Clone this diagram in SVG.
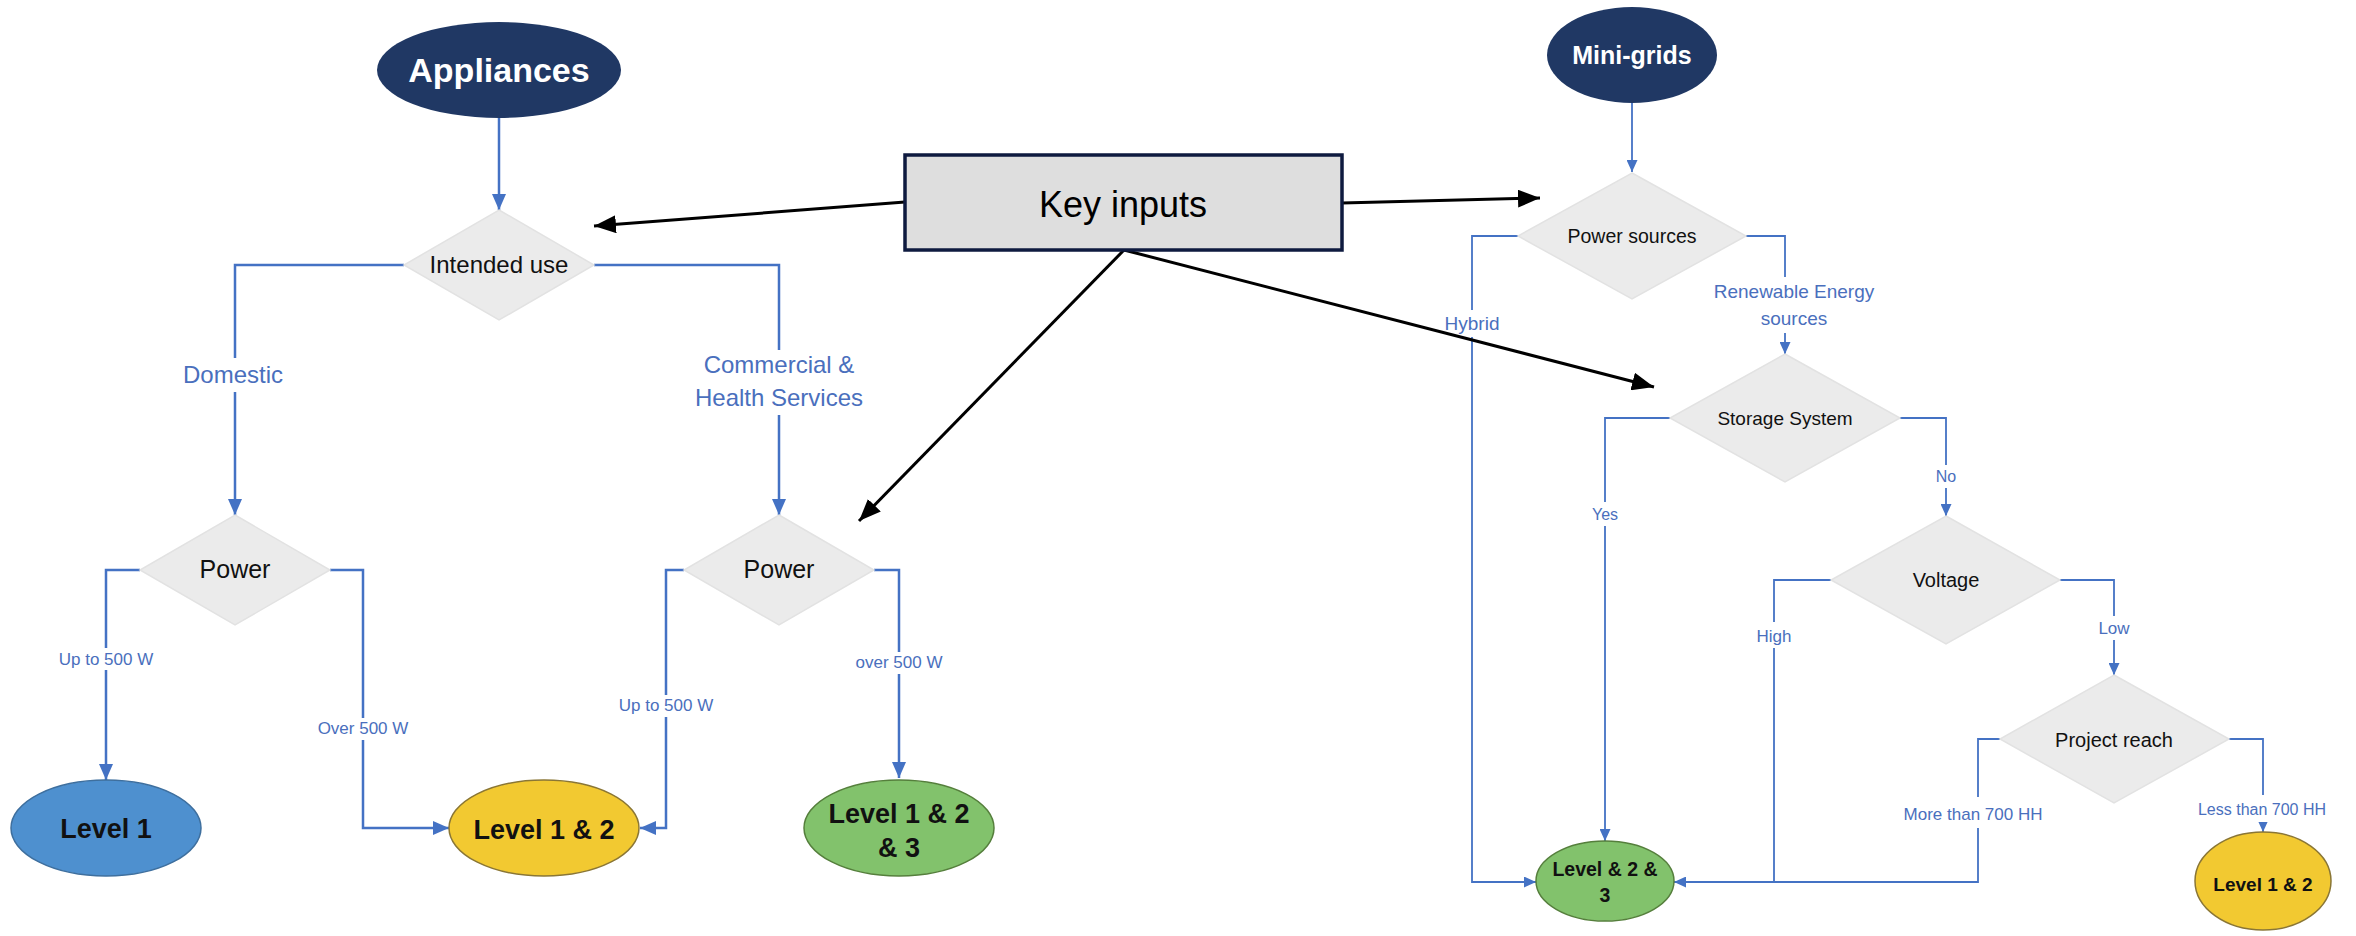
<svg xmlns="http://www.w3.org/2000/svg" width="2356" height="936" viewBox="0 0 2356 936">
  <defs>
    <style>
      text { font-family: "Liberation Sans", Arial, sans-serif; }
      .start { fill: #203864; }
      .start-t { fill: #ffffff; font-weight: bold; text-anchor: middle; }
      .dec { fill: #ebebeb; stroke: #e2e2e2; stroke-width: 1.5; }
      .dec-t { fill: #111111; text-anchor: middle; }
      .end-t { fill: #111111; font-weight: bold; text-anchor: middle; }
      .lvl1 { fill: #4e90cf; stroke: #3e6f9e; stroke-width: 1.5; }
      .lvl12 { fill: #f2c931; stroke: #8a7635; stroke-width: 1.5; }
      .lvl123 { fill: #82c26c; stroke: #557f3c; stroke-width: 1.5; }
      .flow { fill: none; stroke: #4472c4; stroke-width: 2.5; }
      .flow-s { fill: none; stroke: #4472c4; stroke-width: 1.8; }
      .key { fill: none; stroke: #000000; stroke-width: 3; }
      .gap { fill: #ffffff; }
      .lbl { fill: #4a6fbd; text-anchor: middle; }
    </style>
    <marker id="arrowBlue" viewBox="0 0 16 14" refX="16" refY="7" markerWidth="16" markerHeight="14" markerUnits="userSpaceOnUse" orient="auto">
      <path d="M0,0 L16,7 L0,14 z" fill="#4472c4"/>
    </marker>
    <marker id="arrowBlueSmall" viewBox="0 0 12 11" refX="12" refY="5.5" markerWidth="12" markerHeight="11" markerUnits="userSpaceOnUse" orient="auto">
      <path d="M0,0 L12,5.5 L0,11 z" fill="#4472c4"/>
    </marker>
    <marker id="arrowBlack" viewBox="0 0 22 18" refX="22" refY="9" markerWidth="22" markerHeight="18" markerUnits="userSpaceOnUse" orient="auto">
      <path d="M0,0 L22,9 L0,18 z" fill="#000000"/>
    </marker>
  </defs>

  <rect width="2356" height="936" fill="#ffffff"/>

  <!-- connectors -->
  <g id="connectors">
    <!-- appliances flow -->
    <path class="flow" d="M499 118 V210" marker-end="url(#arrowBlue)"/>
    <path class="flow" d="M404 265 H235 V515" marker-end="url(#arrowBlue)"/>
    <path class="flow" d="M594 265 H779 V515" marker-end="url(#arrowBlue)"/>
    <path class="flow" d="M140 570 H106 V780" marker-end="url(#arrowBlue)"/>
    <path class="flow" d="M330 570 H363 V828 H449" marker-end="url(#arrowBlue)"/>
    <path class="flow" d="M684 570 H666 V828 H640" marker-end="url(#arrowBlue)"/>
    <path class="flow" d="M874 570 H899 V778" marker-end="url(#arrowBlue)"/>

    <!-- mini-grid flow -->
    <path class="flow-s" d="M1632 103 V172" marker-end="url(#arrowBlueSmall)"/>
    <path class="flow-s" d="M1518 236 H1472 V882 H1536" marker-end="url(#arrowBlueSmall)"/>
    <path class="flow-s" d="M1746 236 H1785 V354" marker-end="url(#arrowBlueSmall)"/>
    <path class="flow-s" d="M1670 418 H1605 V841" marker-end="url(#arrowBlueSmall)"/>
    <path class="flow-s" d="M1900 418 H1946 V516" marker-end="url(#arrowBlueSmall)"/>
    <path class="flow-s" d="M1831 580 H1774 V882"/>
    <path class="flow-s" d="M2060 580 H2114 V675" marker-end="url(#arrowBlueSmall)"/>
    <path class="flow-s" d="M2001 739 H1978 V882 H1674" marker-end="url(#arrowBlueSmall)"/>
    <path class="flow-s" d="M2229 739 H2263 V832" marker-end="url(#arrowBlueSmall)"/>
  </g>

  <!-- branch labels -->
  <g id="labels">
    <rect class="gap" x="229" y="358" width="12" height="34"/>
    <text class="lbl" x="233" y="383" font-size="24">Domestic</text>

    <rect class="gap" x="773" y="350" width="12" height="65"/>
    <text class="lbl" x="779" y="373" font-size="24">Commercial &amp;</text>
    <text class="lbl" x="779" y="406" font-size="24">Health Services</text>

    <rect class="gap" x="100" y="648" width="12" height="22"/>
    <text class="lbl" x="106" y="665" font-size="17">Up to 500 W</text>

    <rect class="gap" x="357" y="718" width="12" height="22"/>
    <text class="lbl" x="363" y="734" font-size="17">Over 500 W</text>

    <rect class="gap" x="660" y="695" width="12" height="22"/>
    <text class="lbl" x="666" y="711" font-size="17">Up to 500 W</text>

    <rect class="gap" x="893" y="652" width="12" height="22"/>
    <text class="lbl" x="899" y="668" font-size="17">over 500 W</text>

    <rect class="gap" x="1466" y="310" width="12" height="27"/>
    <text class="lbl" x="1472" y="330" font-size="19">Hybrid</text>

    <rect class="gap" x="1779" y="277" width="12" height="56"/>
    <text class="lbl" x="1794" y="298" font-size="19">Renewable Energy</text>
    <text class="lbl" x="1794" y="325" font-size="19">sources</text>

    <rect class="gap" x="1599" y="502" width="12" height="24"/>
    <text class="lbl" x="1605" y="520" font-size="16">Yes</text>

    <rect class="gap" x="1940" y="465" width="12" height="23"/>
    <text class="lbl" x="1946" y="482" font-size="16">No</text>

    <rect class="gap" x="1768" y="622" width="12" height="26"/>
    <text class="lbl" x="1774" y="642" font-size="17">High</text>

    <rect class="gap" x="2108" y="616" width="12" height="24"/>
    <text class="lbl" x="2114" y="634" font-size="17">Low</text>

    <rect class="gap" x="1972" y="797" width="12" height="31"/>
    <text class="lbl" x="1973" y="820" font-size="17">More than 700 HH</text>

    <rect class="gap" x="2257" y="795" width="12" height="27"/>
    <text class="lbl" x="2262" y="815" font-size="16">Less than 700 HH</text>
  </g>

  <!-- key inputs links -->
  <g id="key-links">
    <path class="key" d="M905 202 L594 226" marker-end="url(#arrowBlack)"/>
    <path class="key" d="M1342 203 L1540 198" marker-end="url(#arrowBlack)"/>
    <path class="key" d="M1124 250 L1654 387" marker-end="url(#arrowBlack)"/>
    <path class="key" d="M1124 250 L859 521" marker-end="url(#arrowBlack)"/>
  </g>

  <!-- appliances branch -->
  <g id="appliances">
    <ellipse class="start" cx="499" cy="70" rx="122" ry="48"/>
    <text class="start-t" x="499" y="82" font-size="34">Appliances</text>
  </g>
  <g id="intended-use">
    <polygon class="dec" points="499,210 594,265 499,320 404,265"/>
    <text class="dec-t" x="499" y="273" font-size="24">Intended use</text>
  </g>
  <g id="power-domestic">
    <polygon class="dec" points="235,515 330,570 235,625 140,570"/>
    <text class="dec-t" x="235" y="578" font-size="25">Power</text>
  </g>
  <g id="power-commercial">
    <polygon class="dec" points="779,515 874,570 779,625 684,570"/>
    <text class="dec-t" x="779" y="578" font-size="25">Power</text>
  </g>
  <g id="level-1">
    <ellipse class="lvl1" cx="106" cy="828" rx="95" ry="48"/>
    <text class="end-t" x="106" y="838" font-size="27">Level 1</text>
  </g>
  <g id="level-1-2">
    <ellipse class="lvl12" cx="544" cy="828" rx="95" ry="48"/>
    <text class="end-t" x="544" y="839" font-size="27">Level 1 &amp; 2</text>
  </g>
  <g id="level-1-2-3">
    <ellipse class="lvl123" cx="899" cy="828" rx="95" ry="48"/>
    <text class="end-t" x="899" y="823" font-size="27">Level 1 &amp; 2</text>
    <text class="end-t" x="899" y="857" font-size="27">&amp; 3</text>
  </g>

  <!-- key inputs -->
  <g id="key-inputs">
    <rect x="905" y="155" width="437" height="95" fill="#dedede" stroke="#0e1a3f" stroke-width="3.5"/>
    <text x="1123" y="217" font-size="36" fill="#000000" text-anchor="middle">Key inputs</text>
  </g>

  <!-- mini-grids branch -->
  <g id="mini-grids">
    <ellipse class="start" cx="1632" cy="55" rx="85" ry="48"/>
    <text class="start-t" x="1632" y="64" font-size="25">Mini-grids</text>
  </g>
  <g id="power-sources">
    <polygon class="dec" points="1632,173 1746,236 1632,299 1518,236"/>
    <text class="dec-t" x="1632" y="243" font-size="19.5">Power sources</text>
  </g>
  <g id="storage-system">
    <polygon class="dec" points="1785,354 1900,418 1785,482 1670,418"/>
    <text class="dec-t" x="1785" y="425" font-size="19">Storage System</text>
  </g>
  <g id="voltage">
    <polygon class="dec" points="1946,516 2060,580 1946,644 1831,580"/>
    <text class="dec-t" x="1946" y="587" font-size="20">Voltage</text>
  </g>
  <g id="project-reach">
    <polygon class="dec" points="2114,675 2229,739 2114,803 2000,739"/>
    <text class="dec-t" x="2114" y="747" font-size="20">Project reach</text>
  </g>
  <g id="level-2-3">
    <ellipse class="lvl123" cx="1605" cy="881" rx="69" ry="40"/>
    <text class="end-t" x="1605" y="876" font-size="19.5">Level &amp; 2 &amp;</text>
    <text class="end-t" x="1605" y="902" font-size="19.5">3</text>
  </g>
  <g id="level-1-2-mg">
    <ellipse class="lvl12" cx="2263" cy="881" rx="68" ry="49"/>
    <text class="end-t" x="2263" y="891" font-size="19">Level 1 &amp; 2</text>
  </g>
</svg>
